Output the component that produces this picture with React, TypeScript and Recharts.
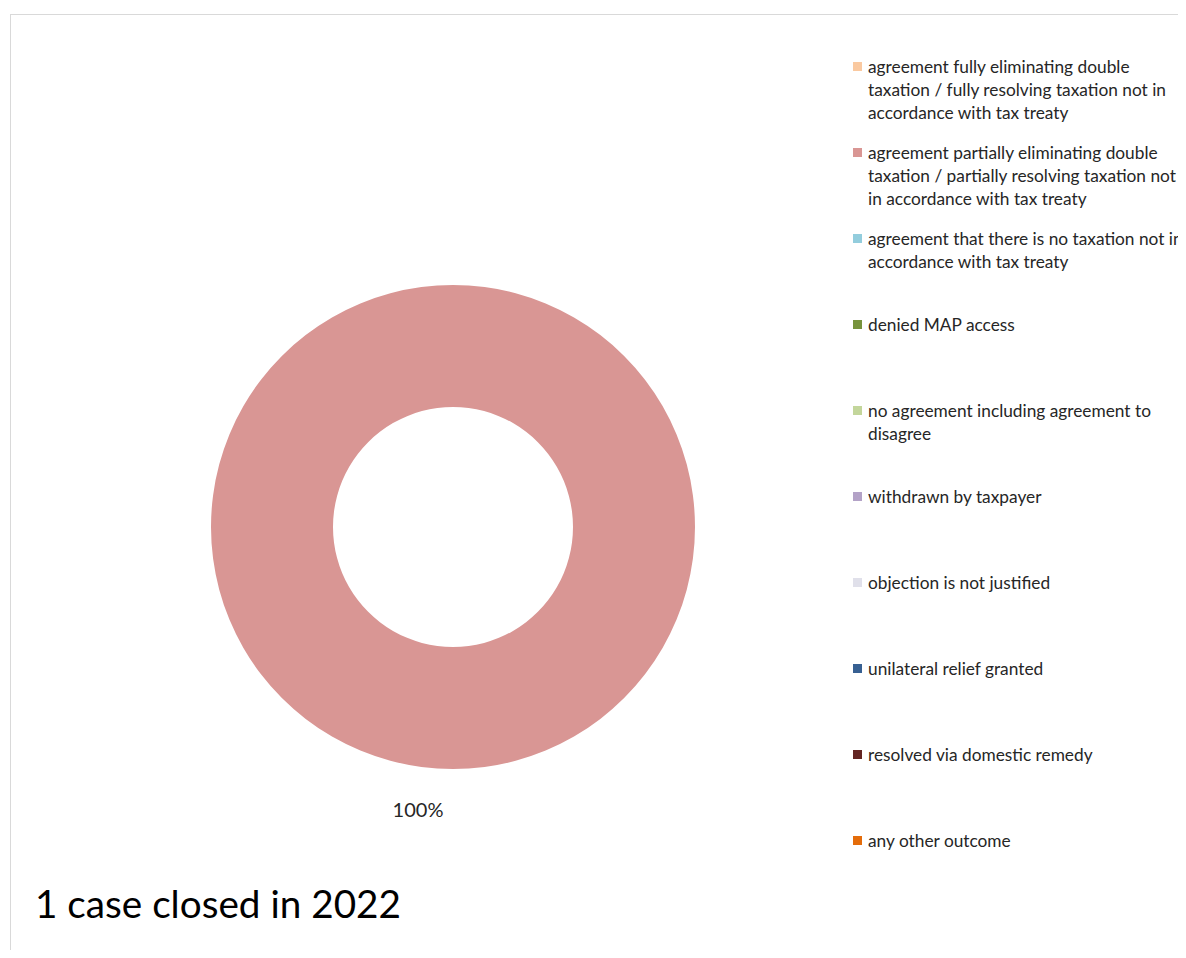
import { Cell, Legend, Pie, PieChart } from "recharts";

// Resultados de casos MAP cerrados en 2022 (solo 1 caso, 100% parcial)
const OUTCOMES = [
  "agreement fully eliminating double\ntaxation / fully resolving taxation not in\naccordance with tax treaty",
  "agreement partially eliminating double\ntaxation / partially resolving taxation not\nin accordance with tax treaty",
  "agreement that there is no taxation not in\naccordance with tax treaty",
  "denied MAP access",
  "no agreement including agreement to\ndisagree",
  "withdrawn by taxpayer",
  "objection is not justified",
  "unilateral relief granted",
  "resolved via domestic remedy",
  "any other outcome",
];
const CASES = [0, 1, 0, 0, 0, 0, 0, 0, 0, 0];
const COLORS = [
  "#FAC9A0",
  "#D99694",
  "#93CDDD",
  "#77933C",
  "#C3D69B",
  "#B3A2C7",
  "#E0E0EA",
  "#376092",
  "#632523",
  "#E46C0A",
];
const TITLE = "1 case closed in 2022";

const FONT = "Lato, 'Open Sans', sans-serif";
const RAD = Math.PI / 180;

const data = OUTCOMES.map((name, i) => ({ name, value: CASES[i] }));

function PctLabel(props: any) {
  const { cx, cy, midAngle, outerRadius, percent, value } = props;
  if (!value) return null;
  const r = outerRadius + 40;
  const x = cx + r * Math.cos(-midAngle * RAD) - 35;
  const y = cy + r * Math.sin(-midAngle * RAD);
  return (
    <text x={x} y={y} textAnchor="middle" dominantBaseline="central" fill="#262626" fontSize={20} fontFamily={FONT}>
      {`${Math.round(percent * 100)}%`}
    </text>
  );
}

function OutcomeLegend({ payload }: any) {
  // mantener el orden original de las categorías
  const items = [...(payload ?? [])].sort(
    (a: any, b: any) => OUTCOMES.indexOf(a.value) - OUTCOMES.indexOf(b.value)
  );
  return (
    <div style={{ fontFamily: FONT, fontSize: 17.3, lineHeight: "23px", color: "#262626" }}>
      {items.map((p: any) => (
        <div key={p.value} style={{ height: 86, display: "flex", alignItems: "flex-start" }}>
          <span
            style={{ width: 9, height: 9, background: p.color, marginTop: 7, marginRight: 6, flex: "none" }}
          />
          <span style={{ whiteSpace: "pre" }}>{p.value}</span>
        </div>
      ))}
    </div>
  );
}

export default function App() {
  return (
    <div style={{ position: "relative", width: 1178, height: 942, overflow: "hidden", background: "#fff" }}>
      <div
        style={{
          position: "absolute",
          left: 2,
          top: 6,
          width: 1300,
          height: 1000,
          borderTop: "1px solid #d9d9d9",
          borderLeft: "1px solid #d9d9d9",
        }}
      />
      <PieChart width={1178} height={942} style={{ position: "absolute", left: 0, top: 0 }}>
        <Pie
          data={data}
          dataKey="value"
          nameKey="name"
          cx={440}
          cy={514}
          innerRadius={120}
          outerRadius={242}
          startAngle={90}
          endAngle={-270}
          stroke="none"
          label={PctLabel}
          labelLine={false}
          isAnimationActive={false}
        >
          {data.map((d, i) => (
            <Cell key={d.name} fill={COLORS[i]} />
          ))}
        </Pie>
        <Legend
          layout="vertical"
          align="right"
          verticalAlign="top"
          content={<OutcomeLegend />}
          wrapperStyle={{ left: 845, top: 47, width: 400 }}
        />
      </PieChart>
      <div
        style={{
          position: "absolute",
          left: 27,
          top: 876,
          fontFamily: FONT,
          fontSize: 38.7,
          lineHeight: "38px",
          color: "#000",
          whiteSpace: "nowrap",
        }}
      >
        {TITLE}
      </div>
    </div>
  );
}
